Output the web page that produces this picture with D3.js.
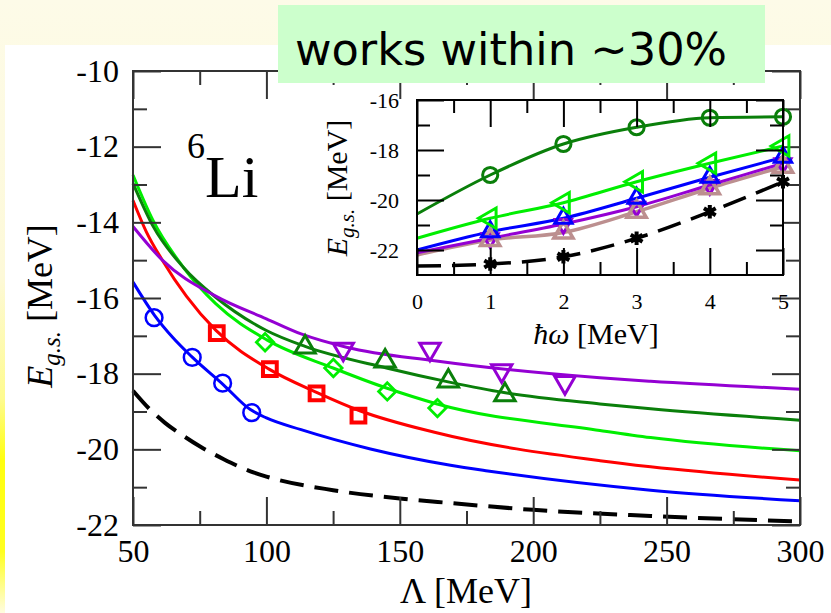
<!DOCTYPE html>
<html>
<head>
<meta charset="utf-8">
<script src="https://cdn.jsdelivr.net/npm/d3@7"></script>
<style>
  body { margin: 0; background: #fff; }
  svg { display: block; }
</style>
</head>
<body>
<svg id="chart"></svg>
<script>
const width = 831;
const height = 613;

// main panel: E_gs vs cutoff Lambda
const lambdaTicks = [50, 100, 150, 200, 250, 300];
const lambdaMinor = [75, 125, 175, 225, 275];
const energyTicks = [-10, -12, -14, -16, -18, -20, -22];
const energyMinor = [-11, -13, -15, -17, -19, -21];

const blueFit = [[50,-15.58],[58,-16.45],[65,-17.05],[72,-17.55],[84,-18.3],[94,-18.95],[100,-19.17],[113,-19.48],[139,-19.99],[169,-20.42],[183,-20.57],[244,-21.08],[300,-21.36]];
const redFit = [[50,-13.42],[55,-14.25],[61,-15.0],[70,-15.95],[81,-16.85],[101,-17.88],[119,-18.5],[135,-18.98],[163,-19.55],[225,-20.3],[244,-20.46],[300,-20.81]];
const limeFit = [[50,-12.75],[57.5,-13.95],[69,-15.2],[81,-16.15],[100,-17.1],[125,-17.85],[145,-18.38],[164,-18.8],[225,-19.5],[244,-19.69],[300,-20.04]];
const darkGreenFit = [[50,-12.97],[57.5,-14.1],[69,-15.2],[81,-15.98],[100,-16.86],[114.5,-17.28],[145,-17.85],[169,-18.23],[189,-18.5],[225,-18.8],[244,-18.93],[300,-19.23]];
const purpleFit = [[50,-14.11],[61,-15.0],[81,-15.95],[100,-16.55],[113,-16.95],[130,-17.3],[163,-17.66],[225,-18.11],[244,-18.2],[300,-18.41]];
const dashedFit = [[50,-18.45],[56,-18.92],[62,-19.3],[69,-19.65],[75,-19.92],[84,-20.26],[94,-20.58],[100,-20.72],[125,-21.08],[150,-21.3],[169,-21.42],[200,-21.6],[244,-21.76],[300,-21.91]];

const blueCircles = [[57.9,-16.52],[72.2,-17.57],[83.6,-18.25],[94.5,-19.03]];
const redSquares = [[81.4,-16.93],[101.3,-17.88],[118.8,-18.52],[134.5,-19.11]];
const limeDiamonds = [[99.5,-17.17],[125.1,-17.85],[145.3,-18.47],[164.1,-18.91]];
const darkGreenTriangles = [[114.5,-17.3],[144.5,-17.67],[168.2,-18.2],[189.4,-18.56]];
const purpleTriangles = [[128.8,-17.35],[161.3,-17.35],[188.2,-17.92],[211.9,-18.23]];

// inset: E_gs vs hbar omega
const hw = [0, 1, 2, 3, 4, 5];
const hwMinor = [0.5, 1.5, 2.5, 3.5, 4.5];
const insetTicks = [-16, -18, -20, -22];
const insetMinor = [-17, -19, -21];

const darkGreenInset = [-20.56, -19.0, -17.76, -17.09, -16.71, -16.67];
const limeInset = [-21.53, -20.73, -20.11, -19.27, -18.53, -17.84];
const blueInset = [-22.0, -21.27, -20.73, -19.93, -19.09, -18.29];
const purpleInset = [-22.11, -21.53, -20.96, -20.27, -19.4, -18.53];
const brownInset = [-22.2, -21.6, -21.3, -20.47, -19.53, -18.67];
const blackInset = [-22.64, -22.56, -22.27, -21.53, -20.47, -19.27];

const svg = d3.select('#chart').attr('width', width).attr('height', height);

// slide background
const defs = svg.append('defs');
const grad = defs.append('linearGradient').attr('id', 'bg').attr('x1', 0).attr('x2', 0).attr('y1', 0).attr('y2', 1);
[[0, '#fdfbe8'], [0.45, '#fdf9d8'], [0.65, '#fefb90'], [0.75, '#ffff10'], [0.9, '#ffff20'], [1, '#fffce0']]
  .forEach(s => grad.append('stop').attr('offset', s[0]).attr('stop-color', s[1]));
svg.append('rect').attr('width', width).attr('height', height).attr('fill', 'url(#bg)');
svg.append('rect').attr('x', 5).attr('y', 45).attr('width', width - 5).attr('height', height - 45).attr('fill', '#fff');

const serif = '"Liberation Serif", "Times New Roman", serif';

// scales
const x = d3.scaleLinear().domain([50, 300]).range([133, 800]);
const y = d3.scaleLinear().domain([-10, -22]).range([71, 525]);

const xIn = d3.scaleLinear().domain([0, 5]).range([417, 783]);
const yIn = d3.scaleLinear().domain([-16, -23]).range([100, 275]);

function drawAxes(xs, ys, xMaj, xMin, yMaj, yMin, opt) {
  const g = svg.append('g');
  const [x0, x1] = xs.range();
  const [y0, y1] = ys.range();
  const fmt = d => String(d);
  const put = (axis, tx, ty) => g.append('g').attr('transform', `translate(${tx},${ty})`).call(axis.tickSizeOuter(0));

  put(d3.axisBottom(xs).tickValues(xMaj).tickSize(-opt.major).tickPadding(opt.pad).tickFormat(fmt), 0, y1);
  put(d3.axisBottom(xs).tickValues(xMin).tickSize(-opt.minor).tickFormat(''), 0, y1);
  put(d3.axisTop(xs).tickValues(xMaj).tickSize(-opt.major).tickFormat(''), 0, y0);
  put(d3.axisTop(xs).tickValues(xMin).tickSize(-opt.minor).tickFormat(''), 0, y0);
  put(d3.axisLeft(ys).tickValues(yMaj).tickSize(-opt.major).tickPadding(opt.pad).tickFormat(fmt), x0, 0);
  put(d3.axisLeft(ys).tickValues(yMin).tickSize(-opt.minor).tickFormat(''), x0, 0);
  put(d3.axisRight(ys).tickValues(yMaj).tickSize(-opt.major).tickFormat(''), x1, 0);
  put(d3.axisRight(ys).tickValues(yMin).tickSize(-opt.minor).tickFormat(''), x1, 0);

  g.selectAll('.domain').remove();
  g.selectAll('g').attr('font-family', null).attr('font-size', null);
  g.selectAll('.tick line').attr('stroke', opt.color).attr('stroke-width', opt.sw);
  g.selectAll('.tick text')
    .style('font-family', serif)
    .style('font-size', opt.font + 'px')
    .attr('fill', '#000');
  g.append('rect').attr('x', x0).attr('y', y0).attr('width', x1 - x0).attr('height', y1 - y0)
    .attr('fill', 'none').attr('stroke', opt.color).attr('stroke-width', opt.sw);
  return g;
}

function drawLine(pts, sx, sy, color, w, dash) {
  svg.append('path')
    .datum(pts)
    .attr('fill', 'none')
    .attr('stroke', color)
    .attr('stroke-width', w)
    .attr('stroke-dasharray', dash || null)
    .attr('d', d3.line().x(d => sx(d[0])).y(d => sy(d[1])).curve(d3.curveMonotoneX));
}

function drawMarkers(pts, sx, sy, type, size, rot, color, w, fill) {
  svg.append('g').selectAll('path')
    .data(pts)
    .enter()
    .append('path')
      .attr('d', d3.symbol().type(type).size(size))
      .attr('transform', d => `translate(${sx(d[0])},${sy(d[1])}) rotate(${rot})`)
      .attr('fill', fill || 'none')
      .attr('stroke', color)
      .attr('stroke-width', w);
}

// main curves
drawLine(dashedFit, x, y, '#000', 4, '24,11');
drawLine(blueFit, x, y, '#0000ff', 3);
drawLine(redFit, x, y, '#ff0000', 3);
drawLine(limeFit, x, y, '#00ee00', 3);
drawLine(darkGreenFit, x, y, '#0a7f0a', 3);
drawLine(purpleFit, x, y, '#9400d3', 3);

drawMarkers(blueCircles, x, y, d3.symbolCircle, 220, 0, '#0000ff', 2.5);
drawMarkers(redSquares, x, y, d3.symbolSquare, 190, 0, '#ff0000', 4);
drawMarkers(limeDiamonds, x, y, d3.symbolSquare, 150, 45, '#00ee00', 2.8);
drawMarkers(darkGreenTriangles, x, y, d3.symbolTriangle, 180, 0, '#0a7f0a', 3);
drawMarkers(purpleTriangles, x, y, d3.symbolTriangle, 180, 180, '#9400d3', 3);

drawAxes(x, y, lambdaTicks, lambdaMinor, energyTicks, energyMinor,
  { major: 28, minor: 14, pad: 14, font: 32, color: '#333', sw: 2 });

// axis titles, main
svg.append('text')
  .attr('x', 466).attr('y', 603)
  .attr('text-anchor', 'middle')
  .attr('font-family', serif).attr('font-size', 36)
  .text('Λ [MeV]');

const yTitle = svg.append('text')
  .attr('transform', 'translate(52,306) rotate(-90)')
  .attr('text-anchor', 'middle')
  .attr('font-family', serif).attr('font-size', 36);
yTitle.append('tspan').attr('font-style', 'italic').text('E');
yTitle.append('tspan').attr('font-style', 'italic').attr('font-size', 25).attr('dy', 8).text('g.s.');
yTitle.append('tspan').attr('dy', -8).text(' [MeV]');

// nucleus label
const nucleus = svg.append('text').attr('x', 187).attr('y', 197).attr('font-family', serif).attr('font-size', 60);
nucleus.append('tspan').attr('font-size', 36).attr('dy', -39).text('6');
nucleus.append('tspan').attr('dy', 39).text('Li');

// inset
svg.append('rect')
  .attr('x', xIn.range()[0]).attr('y', yIn.range()[0])
  .attr('width', xIn.range()[1] - xIn.range()[0]).attr('height', yIn.range()[1] - yIn.range()[0])
  .attr('fill', '#fff');

const zipHw = vals => hw.map((h, i) => [h, vals[i]]);

drawLine(zipHw(blackInset), xIn, yIn, '#000', 3.5, '24,11');
drawLine(zipHw(brownInset), xIn, yIn, '#bc8f8f', 3.5);
drawLine(zipHw(purpleInset), xIn, yIn, '#9400d3', 3);
drawLine(zipHw(blueInset), xIn, yIn, '#0000ff', 3);
drawLine(zipHw(limeInset), xIn, yIn, '#00ee00', 3);
drawLine(zipHw(darkGreenInset), xIn, yIn, '#0a7f0a', 3);

const atOmega = vals => zipHw(vals).slice(1);
drawMarkers(atOmega(purpleInset), xIn, yIn, d3.symbolTriangle, 110, 180, '#9400d3', 3);
drawMarkers(atOmega(brownInset), xIn, yIn, d3.symbolTriangle, 160, 0, '#bc8f8f', 3.5);
drawMarkers(atOmega(blueInset), xIn, yIn, d3.symbolTriangle, 130, 0, '#0000ff', 3);
drawMarkers(atOmega(limeInset), xIn, yIn, d3.symbolTriangle, 180, -90, '#00ee00', 3);
drawMarkers(atOmega(darkGreenInset), xIn, yIn, d3.symbolCircle, 180, 0, '#0a7f0a', 3);
drawMarkers(atOmega(blackInset), xIn, yIn, d3.symbolAsterisk, 130, 0, '#000', 4);

drawAxes(xIn, yIn, hw, hwMinor, insetTicks, insetMinor,
  { major: 27, minor: 13, pad: 18, font: 22, color: '#000', sw: 2 });

svg.append('text')
  .attr('x', 596).attr('y', 344)
  .attr('text-anchor', 'middle')
  .attr('font-family', serif).attr('font-size', 30)
  .html('<tspan font-style="italic">ħω</tspan> [MeV]');

const yInTitle = svg.append('text')
  .attr('transform', 'translate(347,188) rotate(-90)')
  .attr('text-anchor', 'middle')
  .attr('font-family', serif).attr('font-size', 30);
yInTitle.append('tspan').attr('font-style', 'italic').text('E');
yInTitle.append('tspan').attr('font-style', 'italic').attr('font-size', 21).attr('dy', 7).text('g.s.');
yInTitle.append('tspan').attr('dy', -7).text(' [MeV]');

// note box
svg.append('rect').attr('x', 278).attr('y', 5).attr('width', 487).attr('height', 78).attr('fill', '#ccffcc');
svg.append('text')
  .attr('x', 295).attr('y', 65)
  .attr('font-family', '"Comic Sans MS", "DejaVu Sans", sans-serif')
  .attr('font-size', 45)
  .attr('textLength', 432)
  .attr('lengthAdjust', 'spacingAndGlyphs')
  .text('works within ~30%');
</script>
</body>
</html>
